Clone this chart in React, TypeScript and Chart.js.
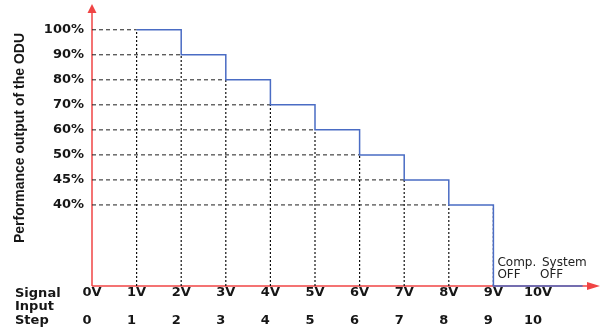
import React, { useEffect, useRef } from 'react';
import { Chart, registerables } from 'chart.js';

Chart.register(...registerables);

// ---- data ----
const VOLTAGE_LABELS = ['0V', '1V', '2V', '3V', '4V', '5V', '6V', '7V', '8V', '9V', '10V'];
const STEP_LABELS = ['0', '1', '2', '3', '4', '5', '6', '7', '8', '9', '10'];
const LEVEL_LABELS = ['100%', '90%', '80%', '70%', '60%', '50%', '45%', '40%'];
const LEVEL_START_STEP = [1, 2, 3, 4, 5, 6, 7, 8];
const COMP_OFF_STEP = 9;
const SYSTEM_OFF_STEP = 10;
const LINE_END_STEP = 11;
const ROW_LABELS = ['Signal', 'Input', 'Step'];
const Y_TITLE = 'Performance output of the ODU';
const COMP_OFF_TEXT = ['Comp.', 'OFF'];
const SYSTEM_OFF_TEXT = ['System', 'OFF'];

// ---- scale ranges (level rank axis: 40% = 0 ... 100% = 7) ----
const Y_MIN = -3.24;
const Y_MAX = 8.03;
const X_MAX = 11.39;
const OFF = Y_MIN;

const RED = '#f04444';
const BLUE = '#4a6cc4';
const TEXT = '#161616';
const TICK_FONT = { family: 'DejaVu Sans', weight: 'bold' as const, size: 13 };

const levelPos = (i: number) => LEVEL_LABELS.length - 1 - i;

const stepData = [
  ...LEVEL_START_STEP.map((x, i) => ({ x, y: levelPos(i) })),
  { x: COMP_OFF_STEP, y: OFF },
  { x: LINE_END_STEP, y: OFF },
];

const hDashData: any[] = [];
LEVEL_START_STEP.forEach((x, i) => {
  hDashData.push({ x: 0, y: levelPos(i) }, { x, y: levelPos(i) }, { x, y: null });
});

const vDashData: any[] = [];
LEVEL_START_STEP.forEach((x, i) => {
  vDashData.push({ x, y: OFF }, { x, y: levelPos(i) }, { x, y: null });
});
vDashData.push(
  { x: COMP_OFF_STEP, y: OFF },
  { x: COMP_OFF_STEP, y: levelPos(LEVEL_LABELS.length - 1) }
);

const axesPlugin = {
  id: 'redAxes',
  beforeDatasetsDraw(chart: any) {
    const { ctx, chartArea } = chart;
    const { left, right, top, bottom } = chartArea;
    ctx.save();
    ctx.strokeStyle = RED;
    ctx.fillStyle = RED;
    ctx.lineWidth = 1.5;
    ctx.beginPath();
    ctx.moveTo(left, bottom);
    ctx.lineTo(left, top + 8);
    ctx.stroke();
    ctx.beginPath();
    ctx.moveTo(left, bottom);
    ctx.lineTo(right - 10, bottom);
    ctx.stroke();
    ctx.restore();
  },
  afterDatasetsDraw(chart: any) {
    const { ctx, chartArea } = chart;
    const { left, right, top, bottom } = chartArea;
    ctx.save();
    ctx.fillStyle = RED;
    ctx.beginPath();
    ctx.moveTo(left, top);
    ctx.lineTo(left - 4.5, top + 9);
    ctx.lineTo(left + 4.5, top + 9);
    ctx.closePath();
    ctx.fill();
    ctx.beginPath();
    ctx.moveTo(right, bottom);
    ctx.lineTo(right - 13, bottom - 4);
    ctx.lineTo(right - 13, bottom + 4);
    ctx.closePath();
    ctx.fill();
    ctx.restore();
  },
};

const textPlugin = {
  id: 'extraText',
  afterDraw(chart: any) {
    const { ctx, chartArea, scales } = chart;
    const xs = scales.x;
    const bottom = chartArea.bottom;
    ctx.save();
    ctx.fillStyle = TEXT;
    ctx.textBaseline = 'alphabetic';
    ctx.textAlign = 'left';
    const tickFont = `bold ${TICK_FONT.size}px "${TICK_FONT.family}"`;
    ctx.font = tickFont;
    // row labels
    const rowBase = [bottom + 11, bottom + 24, bottom + 38];
    ROW_LABELS.forEach((t, i) => ctx.fillText(t, 15, rowBase[i]));
    // step numbers (left aligned with voltage labels)
    STEP_LABELS.forEach((t, i) => {
      const px = xs.getPixelForValue(i);
      const w = ctx.measureText(VOLTAGE_LABELS[i]).width;
      ctx.fillText(t, px - w / 2, bottom + 38);
    });
    // annotations
    ctx.font = '12px "DejaVu Sans"';
    ctx.fillStyle = '#222';
    const cx = xs.getPixelForValue(COMP_OFF_STEP) + 4;
    const sx = xs.getPixelForValue(SYSTEM_OFF_STEP) + 4;
    ctx.fillText(COMP_OFF_TEXT[0], cx, bottom - 20);
    ctx.fillText(COMP_OFF_TEXT[1], cx, bottom - 8.5);
    ctx.fillText(SYSTEM_OFF_TEXT[0], sx, bottom - 20);
    ctx.fillText(SYSTEM_OFF_TEXT[1], sx - 2, bottom - 8.5);
    // y title
    ctx.fillStyle = TEXT;
    ctx.font = 'bold 14px "Liberation Sans"';
    ctx.translate(20, 138);
    ctx.rotate(-Math.PI / 2);
    ctx.textAlign = 'center';
    ctx.textBaseline = 'middle';
    ctx.fillText(Y_TITLE, 0, 0);
    ctx.restore();
  },
};

export default function App() {
  const ref = useRef<HTMLCanvasElement>(null);
  useEffect(() => {
    const canvas = ref.current!;
    const chart = new Chart(canvas, {
      type: 'line',
      data: {
        datasets: [
          {
            data: stepData,
            stepped: 'before',
            borderColor: BLUE,
            borderWidth: 1.5,
            pointRadius: 0,
            fill: false,
            clip: false,
          } as any,
          {
            data: hDashData,
            borderColor: '#1e1e1e',
            borderWidth: 1,
            borderDash: [4, 3],
            pointRadius: 0,
            spanGaps: false,
            fill: false,
          } as any,
          {
            data: vDashData,
            borderColor: '#111',
            borderWidth: 1.2,
            borderDash: [2, 2],
            pointRadius: 0,
            spanGaps: false,
            fill: false,
          } as any,
        ],
      },
      options: {
        animation: false,
        responsive: false,
        layout: { padding: { top: 4, right: 2, left: 0, bottom: 0 } },
        plugins: { legend: { display: false }, tooltip: { enabled: false } },
        elements: { point: { radius: 0 } },
        scales: {
          x: {
            type: 'linear',
            min: 0,
            max: X_MAX,
            grid: { display: false, drawTicks: false },
            border: { display: false },
            ticks: {
              padding: -1,
              font: TICK_FONT,
              color: TEXT,
              maxRotation: 0,
              autoSkip: false,
              callback: (v: any) => VOLTAGE_LABELS[Math.round(v)] ?? '',
            },
            afterBuildTicks: (s: any) => {
              s.ticks = VOLTAGE_LABELS.map((_, i) => ({ value: i }));
            },
            afterFit: (s: any) => {
              s.height = 45;
              s.paddingLeft = 0;
              s.paddingRight = 0;
            },
          },
          y: {
            type: 'linear',
            min: Y_MIN,
            max: Y_MAX,
            grid: { display: false, drawTicks: false },
            border: { display: false },
            ticks: {
              padding: 8,
              font: TICK_FONT,
              color: TEXT,
              autoSkip: false,
              callback: (v: any) => LEVEL_LABELS[LEVEL_LABELS.length - 1 - Math.round(v)] ?? '',
            },
            afterBuildTicks: (s: any) => {
              s.ticks = LEVEL_LABELS.map((_, i) => ({ value: levelPos(i) }));
            },
            afterFit: (s: any) => {
              s.width = 92;
              s.paddingTop = 0;
              s.paddingBottom = 0;
            },
          },
        },
      } as any,
      plugins: [axesPlugin, textPlugin],
    });
    return () => chart.destroy();
  }, []);
  return (
    <div style={{ position: 'absolute', left: 0, top: 0, width: 602, height: 331, background: '#fff' }}>
      <canvas ref={ref} width={602} height={331} />
    </div>
  );
}
